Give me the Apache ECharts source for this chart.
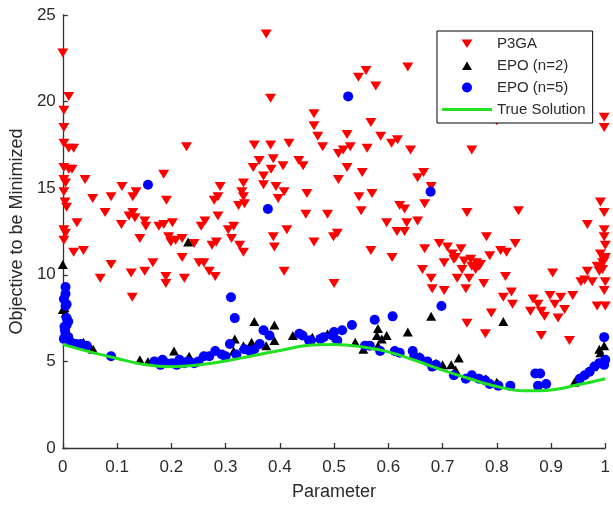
<!DOCTYPE html>
<html>
<head>
<meta charset="utf-8">
<script src="https://cdn.jsdelivr.net/npm/echarts@6/dist/echarts.min.js"></script>
<style>
html,body{margin:0;padding:0;background:#fff;}
#chart{width:613px;height:506px;}
</style>
</head>
<body>
<div id="chart"></div>
<script>
// ---- Data ----
const seriesNames = ['P3GA', 'EPO (n=2)', 'EPO (n=5)', 'True Solution'];
const xAxisName = 'Parameter';
const yAxisName = 'Objective to be Minimized';

const p3ga = [
  [0,22.8],[0.011,20.3],[0.002,19.5],[0.002,18.5],[0.002,17.6],[0.011,17.3],[0.02,17.3],[0.002,16.2],
  [0.011,16.1],[0.017,16.1],[0.002,15.5],[0.005,15.3],[0.002,14.8],[0.004,14.2],[0.007,13.9],[0.002,12.6],
  [0.005,12.4],[0.002,12.0],[0.026,13.0],[0.02,11.3],[0.038,11.4],
  [0.041,15.5],[0.055,14.4],[0.078,13.6],[0.089,14.5],[0.109,15.1],[0.108,12.9],[0.122,13.4],[0.129,13.6],
  [0.133,13.3],[0.129,14.5],[0.135,14.8],[0.142,12.1],[0.151,13.1],[0.153,12.8],[0.069,9.8],[0.089,10.6],
  [0.126,10.1],[0.151,10.2],[0.166,10.7],[0.128,8.7],[0.19,9.9],[0.19,9.5],[0.177,12.8],[0.186,12.9],
  [0.186,15.8],[0.191,14.3],[0.195,12.2],[0.202,13.0],[0.208,12.0],[0.199,11.9],
  [0.22,12.1],[0.228,17.4],[0.242,11.8],[0.22,11.0],[0.224,9.8],[0.251,10.7],[0.26,10.7],[0.27,10.2],
  [0.281,9.9],[0.255,12.8],[0.262,13.1],[0.275,11.7],[0.283,11.9],[0.279,14.3],[0.286,14.5],[0.29,15.1],
  [0.286,13.4],[0.305,12.6],[0.315,12.8],[0.311,12.1],[0.326,11.7],[0.333,11.3],[0.324,14.0],[0.335,14.1],
  [0.333,14.5],[0.33,14.8],[0.333,15.3],
  [0.353,17.5],[0.351,16.2],[0.362,16.6],[0.37,15.7],[0.37,15.2],[0.375,23.9],[0.383,20.2],[0.383,17.5],
  [0.388,16.7],[0.384,16.1],[0.393,15.1],[0.408,14.8],[0.397,14.4],[0.406,16.3],[0.417,17.6],[0.388,12.2],
  [0.39,11.6],[0.413,12.6],[0.408,10.2],[0.435,16.6],[0.443,16.3],[0.45,14.7],[0.448,13.5],
  [0.463,19.3],[0.463,18.6],[0.47,18.0],[0.479,17.4],[0.463,11.9],[0.488,13.5],[0.499,12.2],[0.5,9.5],
  [0.508,17.0],[0.517,17.2],[0.53,17.4],[0.524,18.1],[0.524,16.2],[0.508,15.5],[0.506,12.4],[0.545,21.4],
  [0.552,15.9],[0.546,14.5],[0.55,13.7],[0.559,21.8],
  [0.561,17.3],[0.568,18.8],[0.577,20.9],[0.57,14.7],[0.568,11.4],[0.586,18.0],[0.606,17.6],[0.617,17.8],
  [0.636,22.0],[0.641,17.2],[0.597,13.0],[0.616,12.5],[0.63,12.5],[0.634,13.0],[0.654,13.1],[0.621,14.0],
  [0.63,13.8],[0.607,11.0],[0.654,15.6],[0.665,15.9],[0.679,15.1],[0.667,14.1],[0.667,11.5],[0.663,10.3],
  [0.679,9.8],[0.681,9.2],[0.694,11.8],
  [0.703,9.1],[0.709,11.6],[0.718,11.2],[0.734,11.5],[0.724,11.0],[0.74,10.8],[0.752,10.9],[0.761,10.3],
  [0.703,10.7],[0.721,10.9],[0.736,10.3],[0.727,9.8],[0.743,9.2],[0.749,9.8],[0.745,7.2],[0.745,13.6],
  [0.754,17.2],[0.781,12.2],[0.763,10.7],[0.767,10.5],[0.776,9.5],[0.787,11.1],[0.79,7.8],[0.779,6.6],
  [0.80,18.9],[0.807,11.4],[0.818,11.3],[0.834,11.8],[0.816,9.9],[0.827,9.0],[0.812,8.7],[0.829,8.3],
  [0.84,13.7],[0.754,10.5],[0.77,10.6],
  [0.867,8.6],[0.876,8.3],[0.882,7.9],[0.888,7.6],[0.862,7.9],[0.898,8.8],[0.907,8.3],[0.918,8.7],
  [0.925,8.0],[0.913,7.5],[0.94,8.8],[0.903,10.1],[0.882,6.5],[0.934,6.2],[0.955,9.6],[0.962,9.7],
  [0.967,10.2],[0.976,9.6],[0.985,10.5],[0.989,10.2],[0.995,10.7],[1.0,11.7],[1.0,11.0],[0.991,11.2],
  [0.998,10.8],[0.995,10.3],[1.0,9.6],[0.998,9.1],[0.985,8.2],[1.0,8.2],[0.967,12.9],[0.998,12.6],
  [0.998,12.2],[0.991,14.2],[0.998,13.6],[0.998,19.1],[0.998,18.5]
];

const epo2 = [
  [0,10.6],[0,8.0],[0.003,8.1],[0.005,7.8],[0.038,6.1],[0.049,5.9],[0.056,5.7],[0.142,5.1],[0.157,5.0],
  [0.205,5.6],[0.233,5.3],[0.231,11.9],[0.315,5.6],[0.317,6.3],[0.333,5.9],[0.348,6.1],[0.353,7.3],
  [0.375,5.9],[0.39,7.1],[0.39,6.2],[0.424,6.5],[0.46,6.4],[0.488,6.6],[0.504,6.4],[0.539,6.1],[0.554,5.7],
  [0.581,6.9],[0.579,6.5],[0.588,6.3],[0.597,6.5],[0.581,5.9],[0.636,6.7],[0.658,5.3],[0.679,7.6],
  [0.688,4.9],[0.7,4.8],[0.716,4.8],[0.73,5.2],[0.724,4.5],[0.78,4.0],[0.8,3.8],[0.803,3.7],[0.812,7.3],
  [0.943,3.8],[0.989,5.7],[0.991,5.5],[0.998,5.9]
];

const epo5 = [
  [0.005,9.3],[0.005,8.9],[0.002,8.6],[0.007,8.3],[0.005,8.2],[0.007,7.5],[0.007,7.1],[0.005,6.6],
  [0.002,6.3],[0.015,6.1],[0.024,6.0],[0.033,6.0],[0.01,7.3],[0.003,7.0],[0.004,6.8],[0.01,6.4],
  [0.044,5.9],[0.089,5.3],[0.157,15.2],
  [0.169,5.0],[0.184,5.1],[0.202,4.9],[0.215,5.1],[0.224,4.9],[0.242,4.9],[0.26,5.3],[0.27,5.3],
  [0.281,5.6],[0.293,5.4],[0.308,6.0],[0.31,8.7],[0.317,7.5],[0.335,5.7],[0.353,5.7],[0.363,6.0],
  [0.37,6.8],[0.381,6.5],[0.378,13.8],[0.436,6.6],[0.454,6.2],[0.18,4.8],[0.19,4.9],[0.21,4.8],
  [0.23,5.0],[0.25,5.0],[0.3,5.3],[0.32,5.4],[0.345,5.6],
  [0.442,6.5],[0.457,6.2],[0.475,6.3],[0.481,6.4],[0.497,6.5],[0.5,6.7],[0.515,6.8],[0.533,7.1],
  [0.506,6.2],[0.526,20.3],[0.557,5.9],[0.566,5.9],[0.575,7.4],[0.608,7.6],[0.585,5.6],[0.612,5.6],
  [0.621,5.5],[0.645,5.6],[0.648,5.3],[0.658,5.2],[0.672,5.0],[0.681,4.7],[0.688,4.8],[0.698,8.2],
  [0.678,14.8],[0.721,4.2],[0.743,4.0],[0.754,4.2],[0.767,4.0],[0.779,3.9],[0.787,3.7],[0.803,3.6],
  [0.825,3.6],[0.871,4.3],[0.88,4.3],[0.876,3.6],[0.891,3.7],[0.953,4.0],[0.962,4.2],[0.971,4.4],
  [0.98,4.7],[0.989,4.9],[0.998,4.8],[1.0,5.1],[0.998,6.4]
];

const trueX = [0,0.05,0.1,0.15,0.2,0.25,0.3,0.35,0.4,0.45,0.5,0.55,0.6,0.65,0.7,0.75,0.8,0.85,0.9,0.95,1.0];
const trueY = [5.98,5.55,5.17,4.82,4.69,4.79,5.02,5.33,5.63,5.92,5.98,5.85,5.55,5.05,4.5,4.0,3.55,3.3,3.35,3.65,4.0];

// ---- Legend icons (50x10 boxes, symbol drawn in the middle) ----
const iconDown = 'path://M0,0M50,10M19.5,1L30.5,1L25,9.5Z';
const iconUp = 'path://M0,0M50,10M20,9.5L30,9.5L25,1Z';
const iconLine = 'path://M0,0M50,10M0,3.5L50,3.5L50,6.5L0,6.5Z';

// ---- Chart ----
const axisColor = '#333';
const textColor = '#2b2b2b';
const font = 'Liberation Sans, Arial, sans-serif';

const chart = echarts.init(document.getElementById('chart'), null, {renderer: 'canvas'});
chart.setOption({
  animation: false,
  backgroundColor: '#fff',
  grid: {left: 59, right: 5, top: 15, bottom: 56, containLabel: false},
  xAxis: {
    type: 'value', min: 0, max: 1, interval: 0.1,
    name: xAxisName, nameLocation: 'middle', nameGap: 35,
    nameTextStyle: {fontSize: 18, color: textColor, fontFamily: font},
    axisLine: {show: true, onZero: false, lineStyle: {color: axisColor, width: 1.3}},
    axisTick: {show: true, inside: true, length: 5, lineStyle: {color: axisColor, width: 1.3}},
    axisLabel: {fontSize: 17, color: textColor, fontFamily: font, margin: 11},
    splitLine: {show: false}
  },
  yAxis: {
    type: 'value', min: 0, max: 25, interval: 5,
    name: yAxisName, nameLocation: 'middle', nameGap: 27,
    nameTextStyle: {fontSize: 18, color: textColor, fontFamily: font},
    axisLine: {show: true, onZero: false, lineStyle: {color: axisColor, width: 1.3}},
    axisTick: {show: true, inside: true, length: 5, lineStyle: {color: axisColor, width: 1.3}},
    axisLabel: {fontSize: 17, color: textColor, fontFamily: font, margin: 7},
    splitLine: {show: false}
  },
  legend: {
    show: true,
    orient: 'vertical',
    left: 437, top: 31,
    padding: [5, 7, 6, 5],
    itemWidth: 50, itemHeight: 10, itemGap: 7,
    backgroundColor: '#fff',
    borderColor: '#000', borderWidth: 1,
    textStyle: {fontSize: 15, color: textColor, fontFamily: font},
    data: [
      {name: seriesNames[0], icon: iconDown},
      {name: seriesNames[1], icon: iconUp},
      {name: seriesNames[2], icon: 'circle'},
      {name: seriesNames[3], icon: iconLine}
    ]
  },
  series: [
    {
      name: seriesNames[0], type: 'scatter', data: p3ga,
      symbol: 'triangle', symbolRotate: 180, symbolSize: [11, 9],
      itemStyle: {color: '#ff0000', opacity: 1}
    },
    {
      name: seriesNames[1], type: 'scatter', data: epo2,
      symbol: 'triangle', symbolSize: [10, 9],
      itemStyle: {color: '#000000', opacity: 1}
    },
    {
      name: seriesNames[2], type: 'scatter', data: epo5,
      symbol: 'circle', symbolSize: 10,
      itemStyle: {color: '#0000ff', opacity: 1}
    },
    {
      name: seriesNames[3], type: 'line', data: trueX.map((x, i) => [x, trueY[i]]),
      symbol: 'none', showSymbol: false, smooth: 0.4,
      lineStyle: {color: '#22e022', width: 3},
      itemStyle: {color: '#22e022'}
    }
  ]
});
</script>
</body>
</html>
